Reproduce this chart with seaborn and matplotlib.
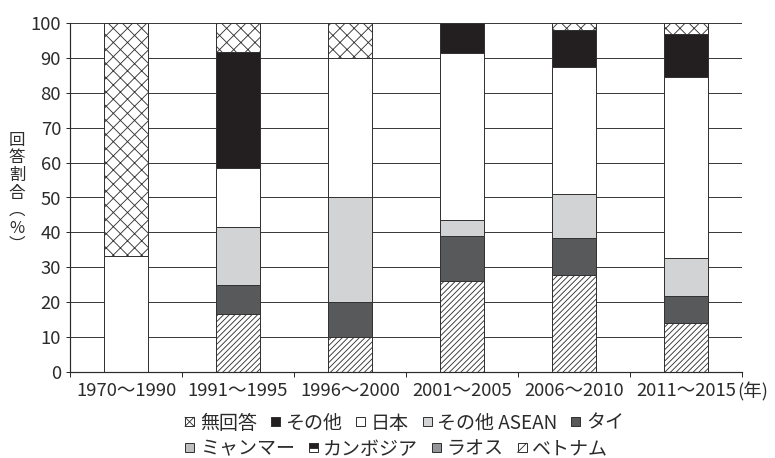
import numpy as np
import pandas as pd
import matplotlib
matplotlib.use("Agg")
import matplotlib.pyplot as plt
import seaborn as sns
from matplotlib.patches import Rectangle, Patch
from matplotlib.lines import Line2D
from matplotlib.legend_handler import HandlerBase

# ---- data (share of responses, %) ----
periods = ["1970～1990", "1991～1995", "1996～2000", "2001～2005", "2006～2010", "2011～2015"]

# stacked from the bottom upward
vietnam = [0.0, 16.7, 10.0, 26.1, 27.7, 14.1]
laos = [0.0, 0.0, 0.0, 0.0, 0.0, 0.0]
cambodia = [0.0, 0.0, 0.0, 0.0, 0.0, 0.0]
myanmar = [0.0, 0.0, 0.0, 0.0, 0.0, 0.0]
thai = [0.0, 8.3, 10.0, 13.0, 10.6, 7.8]
other_asean = [0.0, 16.7, 30.0, 4.4, 12.8, 10.9]
japan = [33.3, 16.7, 40.0, 47.8, 36.2, 51.6]
other = [0.0, 33.3, 0.0, 8.7, 10.6, 12.5]
no_answer = [66.7, 8.3, 10.0, 0.0, 2.1, 3.1]

series_names = ["ベトナム", "ラオス", "カンボジア", "ミャンマー", "タイ",
                "その他 ASEAN", "日本", "その他", "無回答"]
series_values = [vietnam, laos, cambodia, myanmar, thai,
                 other_asean, japan, other, no_answer]

y_ticks = [0, 10, 20, 30, 40, 50, 60, 70, 80, 90, 100]

# ---- styling ----
DPI = 85
def pt(pixels):
    return pixels * 72 / DPI

EDGE = "#333333"
DARK = "#231f20"
styles = {
    "ベトナム": dict(face="white", hatch="/////", mark="/"),
    "ラオス": dict(face="#939598", hatch=None, mark=None),
    "カンボジア": dict(face="white", hatch=None, mark="top"),
    "ミャンマー": dict(face="#bcbec0", hatch=None, mark=None),
    "タイ": dict(face="#58595b", hatch=None, mark=None),
    "その他 ASEAN": dict(face="#d1d3d4", hatch=None, mark=None),
    "日本": dict(face="white", hatch=None, mark=None),
    "その他": dict(face=DARK, hatch=None, mark=None),
    "無回答": dict(face="white", hatch="xx", mark="x"),
}

sns.set_theme(style="white")
plt.rcParams["font.family"] = ["Noto Sans CJK JP", "DejaVu Sans"]
plt.rcParams["hatch.linewidth"] = 0.75
plt.rcParams["hatch.color"] = EDGE
plt.rcParams["text.color"] = "#2b2b2b"
plt.rcParams["xtick.color"] = "#2b2b2b"
plt.rcParams["ytick.color"] = "#2b2b2b"

df = pd.DataFrame({"period": periods})
for name, vals in zip(series_names, series_values):
    df[name] = vals
cum = df.copy()
cum[series_names] = df[series_names].cumsum(axis=1)

fig = plt.figure(figsize=(775 / DPI, 458 / DPI), dpi=DPI)
ax = fig.add_axes([70 / 775, 1 - 372.3 / 458, (742 - 70) / 775, (372.3 - 22.7) / 458])

# overlapping cumulative bars, tallest first
for name in reversed(series_names):
    st = styles[name]
    kw = dict(hatch=st["hatch"]) if st["hatch"] else {}
    sns.barplot(data=cum, x="period", y=name, order=periods, color=st["face"],
                saturation=1, width=0.4, errorbar=None, edgecolor=EDGE,
                linewidth=pt(1.0), ax=ax, zorder=2, **kw)

ax.set_xlim(-0.5, 5.5)
ax.set_ylim(0, 100)
ax.set_yticks(y_ticks)
ax.set_xticks(range(len(periods)))
ax.set_xticklabels(periods)
ax.set_xticks(np.arange(-0.5, len(periods), 1.0), minor=True)
ax.set_xlabel("")
ax.set_ylabel("")

ax.set_axisbelow(True)
ax.yaxis.grid(True, color="#3c3c3c", linewidth=pt(1.0))
ax.xaxis.grid(False)
sns.despine(ax=ax)
for side in ("left", "bottom"):
    ax.spines[side].set_color("#2b2b2b")
    ax.spines[side].set_linewidth(pt(1.2))

ax.tick_params(axis="x", which="major", bottom=True, length=0, pad=pt(10),
               labelsize=pt(18.5))
ax.tick_params(axis="x", which="minor", bottom=True, length=pt(5), width=pt(1),
               direction="out", color="#2b2b2b")
ax.tick_params(axis="y", left=True, length=pt(4), width=pt(1), pad=pt(5),
               direction="out", labelsize=pt(18.5), color="#2b2b2b")

ax.annotate("(年)", xy=(1.0, 0), xycoords="axes fraction",
            xytext=(pt(-5), pt(-10)), textcoords="offset points",
            ha="left", va="top", fontsize=pt(18.5))

fig.text(17 / 775, 1 - 193 / 458, "回\n答\n割\n合\n︵\n%\n︶",
         ha="center", va="center", fontsize=pt(16.5), linespacing=1.04)


class BoxHandler(HandlerBase):
    def __init__(self, face, mark=None):
        super().__init__()
        self.face = face
        self.mark = mark

    def create_artists(self, legend, orig_handle, xdescent, ydescent,
                       width, height, fontsize, trans):
        s = min(width, height)
        x0 = -xdescent + (width - s) / 2
        y0 = -ydescent + (height - s) / 2
        arts = [Rectangle((x0, y0), s, s, facecolor=self.face, edgecolor=EDGE,
                          linewidth=pt(1.0), transform=trans)]
        if self.mark == "x":
            arts.append(Line2D([x0, x0 + s], [y0, y0 + s], color=EDGE,
                               lw=pt(0.9), transform=trans))
            arts.append(Line2D([x0, x0 + s], [y0 + s, y0], color=EDGE,
                               lw=pt(0.9), transform=trans))
        elif self.mark == "/":
            arts.append(Line2D([x0, x0 + s], [y0, y0 + s], color=EDGE,
                               lw=pt(0.9), transform=trans))
        elif self.mark == "top":
            arts.append(Rectangle((x0, y0 + s / 2), s, s / 2, facecolor=DARK,
                                  edgecolor=EDGE, linewidth=pt(1.0),
                                  transform=trans))
        return arts


def legend_row(names, y):
    handles = [Patch(label=n) for n in names]
    hmap = {h: BoxHandler(styles[n]["face"], styles[n]["mark"])
            for h, n in zip(handles, names)}
    fig.legend(handles, names, handler_map=hmap, loc="center left",
               bbox_to_anchor=(185 / 775, 1 - y / 458), ncol=len(names),
               frameon=False, fontsize=pt(19), handlelength=0.48,
               handleheight=0.48, handletextpad=0.3, columnspacing=0.72,
               borderpad=0, borderaxespad=0)


legend_row(["無回答", "その他", "日本", "その他 ASEAN", "タイ"], 423)
legend_row(["ミャンマー", "カンボジア", "ラオス", "ベトナム"], 449)

fig.savefig("out.png", dpi=DPI)
